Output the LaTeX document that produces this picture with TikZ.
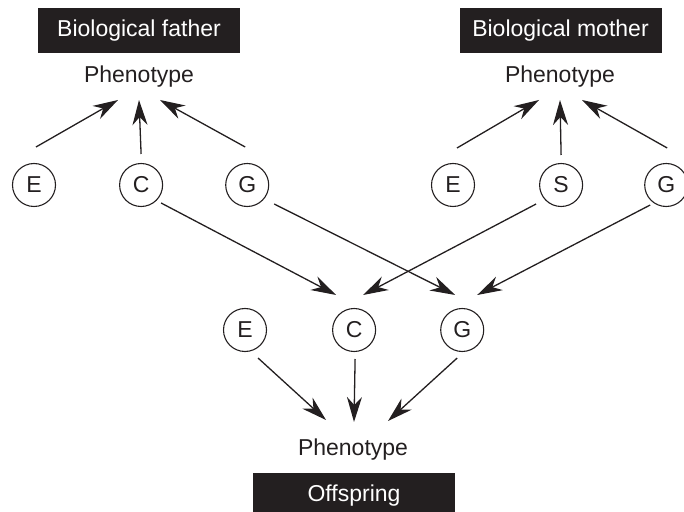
\documentclass[tikz,border=0pt]{standalone}
\usepackage{fontspec}
\setmainfont{Liberation Sans}
\usepackage{tikz}
\usetikzlibrary{arrows.meta,positioning}
\definecolor{FamInk}{HTML}{231F20}

\begin{document}
\begin{tikzpicture}[
  x=1pt,y=1pt,
  tag/.style={fill=FamInk,text=white,minimum width=202pt,minimum height=45pt,font=\fontsize{23}{27}\selectfont,inner sep=0pt},
  pheno/.style={text=FamInk,font=\fontsize{23}{27}\selectfont,inner sep=0pt},
  factor/.style={circle,draw=FamInk,line width=1.1pt,minimum size=43pt,inner sep=0pt,text=FamInk,font=\fontsize{23}{27}\selectfont},
  arrow/.style={-{Stealth[length=25pt,width=15pt,inset=8pt]},draw=FamInk,line width=1.3pt}
]
\useasboundingbox (0,0) rectangle (684,511);
% parents
\node[tag] (father) at (139,480.5) {Biological father};
\node[tag] (mother) at (560.5,480.5) {Biological mother};
\node[pheno] (fPheno) at (139,434) {Phenotype};
\node[pheno] (mPheno) at (560,434) {Phenotype};
\node[factor] (fE) at (34,326) {E};
\node[factor,right=63pt of fE] (fC) {C};
\node[factor,right=62pt of fC] (fG) {G};
\node[factor] (mE) at (453,326) {E};
\node[factor,right=64pt of mE] (mS) {S};
\node[factor,right=61pt of mS] (mG) {G};
% offspring
\node[factor] (oE) at (245,181) {E};
\node[factor,right=65pt of oE] (oC) {C};
\node[factor,right=64pt of oC] (oG) {G};
\node[pheno] (oPheno) at (353,61) {Phenotype};
\node[tag] (offspring) at (354,15.5) {Offspring};
% into parent phenotypes
\draw[arrow] ([xshift=2pt,yshift=38pt]fE.center) -- ([xshift=-21pt,yshift=-23pt]fPheno.center);
\draw[arrow] ([yshift=31pt]fC.center) -- ([yshift=-23pt]fPheno.center);
\draw[arrow] ([xshift=-2pt,yshift=38pt]fG.center) -- ([xshift=21pt,yshift=-23pt]fPheno.center);
\draw[arrow] ([xshift=4pt,yshift=37pt]mE.center) -- ([xshift=-21pt,yshift=-23pt]mPheno.center);
\draw[arrow] ([yshift=30pt]mS.center) -- ([yshift=-23pt]mPheno.center);
\draw[arrow] ([xshift=1pt,yshift=37pt]mG.center) -- ([xshift=22pt,yshift=-23pt]mPheno.center);
% transmission
\draw[arrow] ([xshift=20pt,yshift=-18pt]fC.center) -- ([xshift=-18pt,yshift=35pt]oC.center);
\draw[arrow] ([xshift=27pt,yshift=-19pt]fG.center) -- ([xshift=-7pt,yshift=35pt]oG.center);
\draw[arrow] ([xshift=-25pt,yshift=-19pt]mS.center) -- ([xshift=9pt,yshift=35pt]oC.center);
\draw[arrow] ([xshift=-16pt,yshift=-20pt]mG.center) -- ([xshift=15pt,yshift=35pt]oG.center);
% into offspring phenotype
\draw[arrow] ([xshift=13pt,yshift=-28pt]oE.center) -- ([xshift=-27pt,yshift=30pt]oPheno.center);
\draw[arrow] ([xshift=1pt,yshift=-29pt]oC.center) -- ([xshift=1pt,yshift=28pt]oPheno.center);
\draw[arrow] ([xshift=-5pt,yshift=-28pt]oG.center) -- ([xshift=35pt,yshift=29pt]oPheno.center);
\end{tikzpicture}
\end{document}
